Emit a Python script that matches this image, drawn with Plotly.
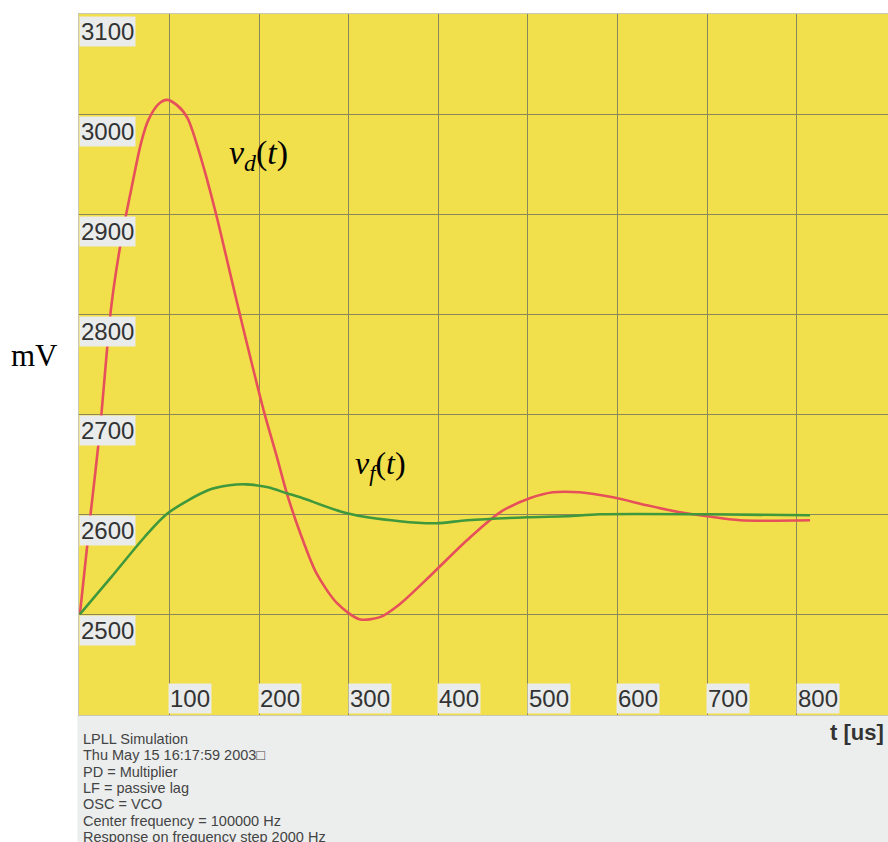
import plotly.graph_objects as go

# ---- data ----
vd_t = [0, 12, 22, 35, 46, 57, 68, 76, 88, 97, 108, 120, 137, 153, 167, 181, 193, 206,
        220, 231, 246, 264, 287, 312, 335, 357, 394, 432, 469, 502, 528, 558, 595, 633,
        670, 700, 737, 815]
vd_mv = [2500, 2601, 2681, 2808, 2874, 2924, 2971, 2994, 3011, 3015, 3010, 2997, 2951,
         2897, 2844, 2791, 2747, 2701, 2657, 2621, 2581, 2541, 2511, 2495, 2497, 2510,
         2541, 2574, 2602, 2616, 2622, 2622, 2617, 2609, 2602, 2598, 2594, 2594]

vf_t = [0, 35, 72, 98, 143, 167, 185, 210, 231, 246, 298, 357, 398, 432, 499, 543, 580,
        700, 815]
vf_mv = [2500, 2537, 2577, 2601, 2624, 2629, 2630, 2627, 2621, 2617, 2601, 2593, 2591,
         2594, 2597, 2598, 2600, 2600, 2599]

x_ticks = [100, 200, 300, 400, 500, 600, 700, 800]
y_ticks = [2500, 2600, 2700, 2800, 2900, 3000, 3100]

info_lines = [
    "LPLL Simulation",
    "Thu May 15 16:17:59 2003\u25a1",
    "PD = Multiplier",
    "LF = passive lag",
    "OSC = VCO",
    "Center frequency = 100000 Hz",
    "Response on frequency step 2000 Hz",
]

YELLOW = "#f2df4c"
GRID = "#8a885a"
LABEL_BG = "#e9ecea"
PANEL = "#eceeee"
RED = "#e6505a"
GREEN = "#3f983c"
SANS = "Liberation Sans, Arial, sans-serif"
SERIF = "Liberation Serif, Times New Roman, serif"

fig = go.Figure()
fig.add_trace(go.Scatter(x=vd_t, y=vd_mv, mode="lines",
                         line=dict(color=RED, width=2.6, shape="spline", smoothing=0.8),
                         name="vd", showlegend=False))
fig.add_trace(go.Scatter(x=vf_t, y=vf_mv, mode="lines",
                         line=dict(color=GREEN, width=2.6, shape="spline", smoothing=0.8),
                         name="vf", showlegend=False))

annotations = []
# y tick labels (inside, under their grid line)
for v in y_ticks:
    annotations.append(dict(x=0, y=v, xref="x", yref="y", text=str(v), showarrow=False,
                            xanchor="left", yanchor="top", xshift=-1, yshift=-1,
                            bgcolor=LABEL_BG, borderpad=1,
                            font=dict(family=SANS, size=24, color="#333333")))
# x tick labels (inside, at bottom, right of grid line)
for v in x_ticks:
    annotations.append(dict(x=v, y=0, xref="x", yref="paper", text=str(v), showarrow=False,
                            xanchor="left", yanchor="bottom", xshift=-1, yshift=1,
                            bgcolor=LABEL_BG, borderpad=1,
                            font=dict(family=SANS, size=24, color="#333333")))
# info text in bottom panel
for i, line in enumerate(info_lines):
    annotations.append(dict(x=0, y=0, xref="paper", yref="paper", text=line, showarrow=False,
                            xanchor="left", yanchor="middle", xshift=2, yshift=-24 - i * 16.3,
                            font=dict(family=SANS, size=14.5, color="#444444")))
# axis titles
annotations.append(dict(x=1, y=0, xref="paper", yref="paper", text="<b>t [us]</b>",
                        showarrow=False, xanchor="right", yanchor="middle", xshift=-2,
                        yshift=-17, font=dict(family=SANS, size=22, color="#333333")))
annotations.append(dict(x=0, y=0.5, xref="paper", yref="paper", text="mV", showarrow=False,
                        xanchor="right", yanchor="middle", xshift=-19, yshift=9,
                        font=dict(family=SERIF, size=31, color="#000000")))
# curve labels
annotations.append(dict(x=199, y=2960, xref="x", yref="y",
                        text="<i>v</i><sub><i>d</i></sub>(<i>t</i>)", showarrow=False,
                        font=dict(family=SERIF, size=34, color="#000000")))
annotations.append(dict(x=335, y=2649, xref="x", yref="y",
                        text="<i>v</i><sub><i>f</i></sub>(<i>t</i>)", showarrow=False,
                        font=dict(family=SERIF, size=32, color="#000000")))

shapes = [
    dict(type="rect", xref="paper", yref="paper", x0=-0.002, x1=1.0, y0=-0.182, y1=0,
         fillcolor=PANEL, line=dict(width=0), layer="below"),
]

fig.update_layout(
    width=888, height=842,
    margin=dict(l=79, r=0, t=14, b=127),
    paper_bgcolor="white",
    plot_bgcolor=YELLOW,
    annotations=annotations,
    shapes=shapes,
    xaxis=dict(range=[-1, 902], tickvals=x_ticks, showticklabels=False, ticks="",
               showgrid=True, gridcolor=GRID, gridwidth=1, zeroline=False,
               showline=True, linecolor="#c8c8b8", linewidth=1, mirror=True),
    yaxis=dict(range=[2399, 3101], tickvals=y_ticks, showticklabels=False, ticks="",
               showgrid=True, gridcolor=GRID, gridwidth=1, zeroline=False,
               showline=True, linecolor="#c8c8b8", linewidth=1, mirror=True),
)

fig.write_html("out.html",
               config={"displayModeBar": False},
               post_script="document.body.style.margin='0px';"
                           "document.body.style.overflow='hidden';")
